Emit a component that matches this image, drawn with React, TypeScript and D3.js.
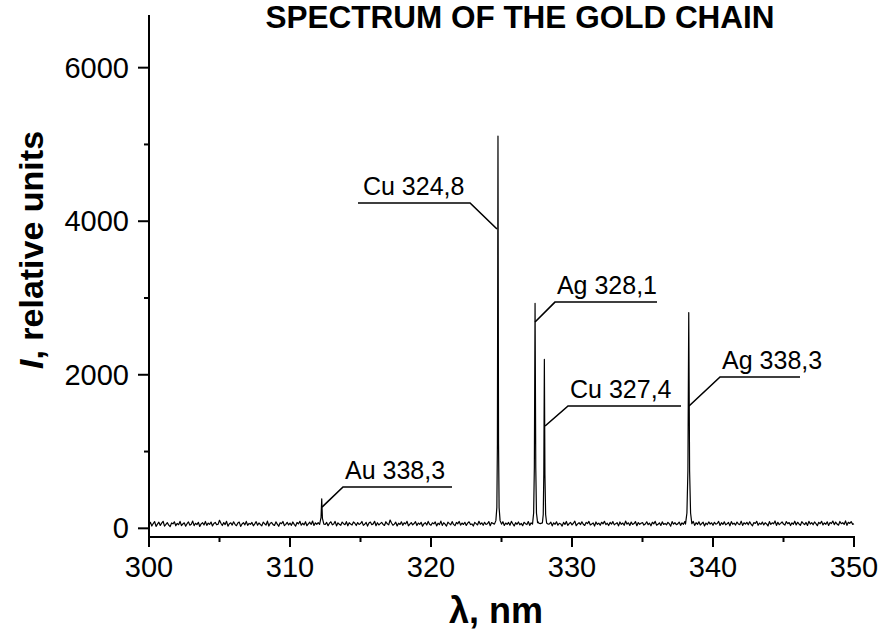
import React from "react";
import * as d3 from "d3";

// ---- Data ----
const xStart = 300;
const xStep = 0.1;
// baseline noise, 300.0 .. 350.0 nm, step 0.1 nm
const noise: number[] = [
  45,78,30,62,88,25,55,80,38,67,92,28,50,74,41,22,70,58,85,33,64,47,90,36,56,
  72,27,60,84,40,53,94,35,66,48,79,24,58,73,44,89,38,68,51,82,31,63,77,46,54,
  105,66,36,75,49,91,29,59,72,42,85,52,34,68,81,26,57,74,45,90,39,63,52,77,33,
  58,87,41,70,50,32,80,60,43,93,30,66,76,48,37,84,54,27,72,61,89,35,52,78,44,
  69,39,83,52,30,76,57,92,41,66,46,86,34,59,79,50,95,37,71,53,74,44,62,88,42,
  52,76,35,67,85,45,57,90,31,71,53,39,81,61,48,87,33,73,55,43,83,66,36,75,50,
  62,89,38,53,78,29,69,82,47,58,92,34,73,44,61,77,51,37,86,59,45,108,70,40,55,
  80,31,67,50,85,39,72,57,91,33,55,75,45,62,86,36,69,52,79,27,60,73,43,90,53,
  40,72,58,83,32,67,48,94,38,73,55,29,81,61,46,87,51,35,76,59,90,42,69,50,79,
  37,67,85,49,57,30,77,61,44,92,53,72,39,79,50,59,88,34,75,64,47,83,56,45,73,
  54,86,37,69,51,77,41,90,59,31,73,53,83,46,65,34,79,61,49,88,39,71,56,77,43,
  61,83,48,75,36,68,53,91,44,58,80,32,72,52,85,41,66,57,29,77,50,89,38,62,76,
  45,66,93,34,58,73,48,85,53,37,77,61,90,44,57,71,30,83,51,68,40,79,58,92,48,
  66,36,77,55,87,45,61,74,32,83,52,69,40,94,54,72,38,81,50,62,88,34,75,53,66,
  75,42,56,85,48,67,33,79,58,91,40,53,72,37,84,51,64,45,78,60,28,87,54,73,47,
  58,81,39,71,52,88,34,63,76,47,56,90,38,73,51,85,43,62,79,31,68,49,83,55,72,
  40,78,54,63,90,37,73,50,84,45,60,76,33,87,53,68,43,82,57,48,93,38,72,54,78,
  46,85,55,33,75,63,92,40,68,52,81,44,73,57,31,87,51,72,59,96,38,78,48,64,84,
  55,42,88,60,75,36,72,52,93,44,79,57,40,86,63,49,77,37,91,55,74,46,83,61,34,
  78,60,92,44,71,53,85,38,75,62,95,48,81,56,41,89,60,73,50,97,39,79,64,87,52,
  60,
];

// emission lines: [wavelength nm, intensity]
const peakAu3123: [number, number][] = [
  [312.1, 50], [312.2, 140], [312.25, 385], [312.3, 130], [312.4, 55],
];
const peakCu3248: [number, number][] = [
  [324.5, 55], [324.6, 100], [324.67, 270], [324.71, 1100], [324.75, 5110],
  [324.79, 1100], [324.83, 270], [324.9, 100], [325.0, 55],
];
const peakAg3281: [number, number][] = [
  [327.2, 55], [327.28, 200], [327.33, 800], [327.38, 2930], [327.43, 800],
  [327.48, 200], [327.56, 75],
];
const peakCu3274: [number, number][] = [
  [327.62, 70], [327.75, 62], [327.9, 70], [327.96, 180], [328.0, 700], [328.04, 2200],
  [328.08, 700], [328.13, 180], [328.2, 70], [328.3, 55],
];
const peakAg3383: [number, number][] = [
  [338.05, 55], [338.15, 200], [338.22, 750], [338.28, 2810], [338.34, 750],
  [338.41, 200], [338.5, 60],
];
const peaks = [peakAu3123, peakCu3248, peakAg3281, peakCu3274, peakAg3383];

// annotations: label, target point, elbow point, end wavelength of the leader
const annLabels = ["Au 338,3", "Cu 324,8", "Ag 328,1", "Cu 327,4", "Ag 338,3"];
const annTarget: [number, number][] = [
  [312.27, 277], [324.68, 3899], [327.38, 2687], [328.09, 1333], [338.3, 1593],
];
const annElbow: [number, number][] = [
  [313.76, 538], [322.77, 4237], [328.79, 2947], [329.72, 1593], [340.5, 1971],
];
const annEnd: number[] = [321.49, 314.82, 336.03, 337.73, 346.17];
const annSide: ("right" | "left")[] = ["right", "left", "right", "right", "right"];

const xMajor = [300, 310, 320, 330, 340, 350];
const xMinor = [305, 315, 325, 335, 345];
const yMajor = [0, 2000, 4000, 6000];
const yMinor = [1000, 3000, 5000];

const title = "SPECTRUM OF THE GOLD CHAIN";
const xLabel = "λ, nm";

// ---- Layout ----
const W = 883, H = 630;
const left = 149, right = 854, top = 15, bottom = 537;
const font = "'Liberation Sans', Arial, Helvetica, sans-serif";

export default function App() {
  const x = d3.scaleLinear().domain([300, 350]).range([left, right]);
  const y = d3.scaleLinear().domain([-113, 6686]).range([bottom, top]);

  // build the spectrum from the noise baseline and the emission lines
  const ranges = peaks.map((p) => [p[0][0], p[p.length - 1][0]]);
  const pts: [number, number][] = [];
  noise.forEach((v, i) => {
    const wl = xStart + i * xStep;
    if (!ranges.some(([a, b]) => wl >= a - 1e-9 && wl <= b + 1e-9)) pts.push([wl, v]);
  });
  peaks.forEach((p) => p.forEach((q) => pts.push(q)));
  pts.sort((a, b) => a[0] - b[0]);

  const line = d3
    .line<[number, number]>()
    .x((d) => x(d[0]))
    .y((d) => y(d[1]));

  return (
    <svg
      width={W}
      height={H}
      viewBox={`0 0 ${W} ${H}`}
      style={{ position: "absolute", left: 0, top: 0, background: "#fff" }}
      fontFamily={font}
    >
      <rect width={W} height={H} fill="#fff" />
      {/* spectrum */}
      <path d={line(pts) || ""} fill="none" stroke="#000" strokeWidth={1.2} strokeLinejoin="round" />

      {/* annotations */}
      {annLabels.map((lab, i) => {
        const tx = x(annTarget[i][0]), ty = y(annTarget[i][1]);
        const ex = x(annElbow[i][0]), ey = y(annElbow[i][1]);
        const endX = x(annEnd[i]);
        const textX = annSide[i] === "right" ? ex + 2 : endX + 5;
        return (
          <g key={lab + i}>
            <polyline
              points={`${tx},${ty} ${ex},${ey} ${endX},${ey}`}
              fill="none"
              stroke="#000"
              strokeWidth={1.6}
            />
            <text x={textX} y={ey - 8} fontSize={25} fill="#000">
              {lab}
            </text>
          </g>
        );
      })}

      {/* axes */}
      <line x1={left} x2={left} y1={top} y2={bottom + 1} stroke="#000" strokeWidth={2} />
      <line x1={left - 1} x2={right + 1} y1={bottom} y2={bottom} stroke="#000" strokeWidth={2} />
      {xMajor.map((t) => (
        <g key={"xM" + t}>
          <line x1={x(t)} x2={x(t)} y1={bottom} y2={bottom + 10} stroke="#000" strokeWidth={2} />
          <text x={x(t)} y={577} textAnchor="middle" fontSize={29} fill="#000">
            {t}
          </text>
        </g>
      ))}
      {xMinor.map((t) => (
        <line key={"xm" + t} x1={x(t)} x2={x(t)} y1={bottom} y2={bottom + 5} stroke="#000" strokeWidth={2} />
      ))}
      {yMajor.map((t) => (
        <g key={"yM" + t}>
          <line x1={left - 11} x2={left} y1={y(t)} y2={y(t)} stroke="#000" strokeWidth={2} />
          <text x={129} y={y(t) + 10} textAnchor="end" fontSize={29} fill="#000">
            {t}
          </text>
        </g>
      ))}
      {yMinor.map((t) => (
        <line key={"ym" + t} x1={left - 5} x2={left} y1={y(t)} y2={y(t)} stroke="#000" strokeWidth={2} />
      ))}

      {/* titles */}
      <text x={520} y={28} textAnchor="middle" fontSize={31.5} fontWeight="bold" fill="#000">
        {title}
      </text>
      <text x={496} y={623} textAnchor="middle" fontSize={36} fontWeight="bold" fill="#000">
        {xLabel}
      </text>
      <text
        transform={`translate(43,250) rotate(-90)`}
        textAnchor="middle"
        fontSize={34}
        fontWeight="bold"
        fill="#000"
      >
        <tspan fontStyle="italic">I</tspan>, relative units
      </text>
    </svg>
  );
}
